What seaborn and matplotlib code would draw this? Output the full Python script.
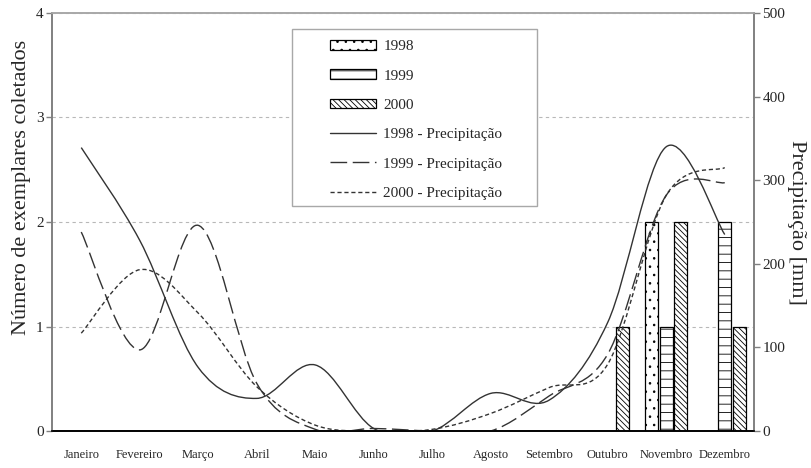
import numpy as np
import pandas as pd
import matplotlib
matplotlib.use('Agg')
import matplotlib.pyplot as plt
import seaborn as sns
from matplotlib.path import Path
from matplotlib.patches import PathPatch, Patch, Rectangle
from matplotlib.lines import Line2D

months = ['Janeiro', 'Fevereiro', 'Março', 'Abril', 'Maio', 'Junho',
          'Julho', 'Agosto', 'Setembro', 'Outubro', 'Novembro', 'Dezembro']
years = ['1998', '1999', '2000']

# specimens collected per month
count_1998 = [0, 0, 0, 0, 0, 0, 0, 0, 0, 0, 2, 0]
count_1999 = [0, 0, 0, 0, 0, 0, 0, 0, 0, 0, 1, 2]
count_2000 = [0, 0, 0, 0, 0, 0, 0, 0, 0, 1, 2, 1]

# monthly rainfall (mm)
prec_1998 = [339, 228, 76, 39, 79, 3, 0, 45, 37, 130, 340, 235]
prec_1999 = [238, 97, 246, 57, 2, 3, 0, 0, 42, 92, 282, 297]
prec_2000 = [117, 193, 141, 53, 7, 0, 2, 21, 52, 80, 282, 315]

hatches = ['..', '--', '\\\\\\\\\\\\']
line_styles = ['-', (0, (12, 4)), (0, (3, 2))]
line_color = '#333333'


def smooth_path(yvals):
    # excel-like smoothed line: catmull-rom segments as cubic bezier
    pts = np.column_stack([np.arange(len(yvals)), yvals]).astype(float)
    n = len(pts)
    verts = [pts[0]]
    codes = [Path.MOVETO]
    for i in range(n - 1):
        p0 = pts[max(i - 1, 0)]
        p1 = pts[i]
        p2 = pts[i + 1]
        p3 = pts[min(i + 2, n - 1)]
        verts += [p1 + (p2 - p0) / 6, p2 - (p3 - p1) / 6, p2]
        codes += [Path.CURVE4] * 3
    return Path(verts, codes)


sns.set_theme(style='white')
plt.rcParams['font.family'] = ['Liberation Serif', 'DejaVu Serif']
plt.rcParams['hatch.linewidth'] = 0.6
plt.rcParams['hatch.color'] = 'black'

df = pd.DataFrame({
    'mes': months * 3,
    'ano': np.repeat(years, 12),
    'n': count_1998 + count_1999 + count_2000,
})

fig = plt.figure(figsize=(8.12, 4.68), dpi=100)
ax = fig.add_axes([52 / 812, 1 - 431 / 468, 702 / 812, 418 / 468])

sns.barplot(data=df, x='mes', y='n', hue='ano', hue_order=years,
            palette=['white'] * 3, saturation=1, edgecolor='black',
            linewidth=0.9, width=0.75, gap=0.1, legend=False, ax=ax)
for cont, h in zip(ax.containers, hatches):
    for bar in cont:
        bar.set_hatch(h)

ax.set_xlim(-0.5, 11.5)
ax.set_ylim(0, 4)
ax.set_yticks([0, 1, 2, 3, 4])
ax.set_xticks(range(12))
ax.set_xticklabels(months, fontsize=9)
ax.set_xticks(np.arange(-0.5, 12, 1), minor=True)
ax.tick_params(axis='x', which='major', length=0, pad=13)
ax.tick_params(axis='x', which='minor', length=5, width=1, color='black', direction='out')
ax.tick_params(axis='y', length=4, width=1, color='#808080', direction='out', labelsize=11, pad=2)
ax.yaxis.grid(True, linestyle=(0, (3, 3)), color='#b8b8b8', lw=0.8)
ax.set_axisbelow(True)
ax.set_xlabel('')
ax.set_ylabel('')

ax2 = ax.twinx()
ax2.set_ylim(0, 500)
ax2.set_yticks([0, 100, 200, 300, 400, 500])
ax2.tick_params(axis='y', length=4, width=1, color='#808080', direction='out', labelsize=11, pad=2)

for vals, ls in zip([prec_1998, prec_1999, prec_2000], line_styles):
    ax2.add_patch(PathPatch(smooth_path(vals), fill=False, edgecolor=line_color,
                            lw=1.0, linestyle=ls, transform=ax2.transData))

for a in (ax, ax2):
    a.spines['left'].set_color('#808080')
    a.spines['right'].set_color('#808080')
    a.spines['top'].set_color('#a8a8a8')
    a.spines['bottom'].set_color('black')
    for s in a.spines.values():
        s.set_linewidth(1.2)

handles = [Patch(facecolor='white', edgecolor='black', hatch=h, lw=0.9) for h in hatches]
handles += [Line2D([], [], color=line_color, lw=1.0, linestyle=ls) for ls in line_styles]
labels = years + [y + ' - Precipitação' for y in years]

ax2.add_patch(Rectangle((0.342, 0.539), 0.349, 0.423, transform=ax2.transAxes,
                        facecolor='white', edgecolor='#a8a8a8', lw=1, zorder=4.5))
leg = ax2.legend(handles, labels, loc='upper left', bbox_to_anchor=(0.396, 0.935),
                 frameon=False, borderaxespad=0, borderpad=0, labelspacing=1.05,
                 handlelength=3, handleheight=0.6, handletextpad=0.5, fontsize=11)
leg.set_zorder(6)

fig.text(22 / 812, 1 - 335 / 468, 'Número de exemplares coletados', rotation=90,
         ha='center', va='bottom', fontsize=16)
fig.text(797 / 812, 1 - 222 / 468, 'Precipitação [mm]', rotation=270,
         ha='center', va='center', fontsize=16)

fig.savefig('out.png', dpi=100)
